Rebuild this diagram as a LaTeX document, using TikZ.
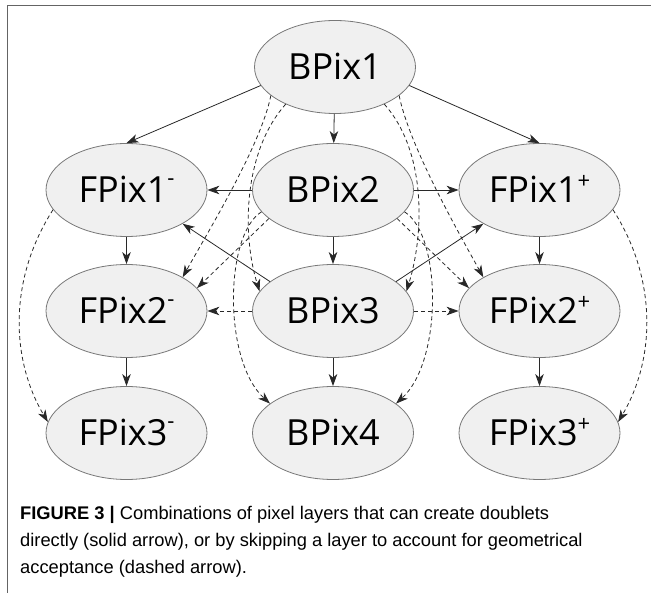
\documentclass[tikz,border=0pt]{standalone}
\usepackage{fontspec}
\setmainfont{Liberation Sans}
\newfontfamily\nodefont{Open Sans}
\usetikzlibrary{shapes.geometric,arrows.meta}
\definecolor{nodefill}{RGB}{240,240,240}
\definecolor{nodeedge}{RGB}{120,120,120}
\definecolor{edgecol}{RGB}{40,40,40}
\definecolor{framecol}{RGB}{100,100,100}
\newcommand{\supm}{\raisebox{17pt}{\fontsize{22}{22}\selectfont -}}
\newcommand{\supp}{\raisebox{14pt}{\fontsize{22}{22}\selectfont +}}
\begin{document}
\begin{tikzpicture}[x=1pt,y=-1pt,
  layer/.style={ellipse, draw=nodeedge, fill=nodefill, line width=0.8pt,
    minimum width=161pt, minimum height=93pt, inner sep=0pt,
    font=\nodefont\fontsize{36}{40}\selectfont, text height=26pt, text depth=0pt},
  solidedge/.style={draw=edgecol, line width=0.8pt,
    -{Stealth[length=12pt,width=8.5pt,inset=3.5pt]}},
  skipedge/.style={solidedge, dash pattern=on 4pt off 3pt},
  capline/.style={anchor=base west, inner sep=0pt, font=\fontsize{18.3}{22}\selectfont}]
\useasboundingbox (0,0) rectangle (651,593);
\draw[framecol, line width=1.3pt] (7.3,593) -- (7.3,5.3) -- (651,5.3);

\node[layer] (b1) at (335,67) {BPix1};
\node[layer] (b2) at (333,190) {BPix2};
\node[layer] (b3) at (333,311) {BPix3};
\node[layer] (b4) at (333,433) {BPix4};
\node[layer] (f1m) at (126.5,190) {FPix1\supm};
\node[layer] (f2m) at (126.5,311) {FPix2\supm};
\node[layer] (f3m) at (126.5,433) {FPix3\supm};
\node[layer] (f1p) at (539.5,190) {FPix1\supp};
\node[layer] (f2p) at (539.5,311) {FPix2\supp};
\node[layer] (f3p) at (539.5,433) {FPix3\supp};

% direct doublets
\draw[solidedge] (b1.194) -- (f1m.north);
\draw[solidedge] (b1.346) -- (f1p.north);
\draw[solidedge] (b1) -- (b2);
\draw[solidedge] (b2) -- (f1m);
\draw[solidedge] (b2) -- (f1p);
\draw[solidedge] (b2) -- (b3);
\draw[solidedge] (b3) -- (b4);
\draw[solidedge] (b3.155) -- (f1m.329);
\draw[solidedge] (b3.25) -- (f1p.211);
\draw[solidedge] (f1m) -- (f2m);
\draw[solidedge] (f2m) -- (f3m);
\draw[solidedge] (f1p) -- (f2p);
\draw[solidedge] (f2p) -- (f3p);

% skipping a layer
\draw[skipedge] (b3) -- (f2m);
\draw[skipedge] (b3) -- (f2p);
\draw[skipedge] (f1m.195) .. controls +(-45,70) and +(-37,-62) .. (f3m.172);
\draw[skipedge] (f1p.345) .. controls +(45,70) and +(37,-62) .. (f3p.8);
\draw[skipedge] (b1.204) .. controls +(-10,50) and +(25,-45) .. (f2m.31);
\draw[skipedge] (b1.336) .. controls +(10,50) and +(-25,-45) .. (f2p.149);
\draw[skipedge] (b1.217) .. controls +(-42,47) and +(-18,-58) .. (b3.165);
\draw[skipedge] (b1.323) .. controls +(42,47) and +(18,-58) .. (b3.15);
\draw[skipedge] (b2.204) -- (f2m.18);
\draw[skipedge] (b2.336) -- (f2p.162);
\draw[skipedge] (b2.197) .. controls +(-37,23) and +(-47,-43) .. (b4.155);
\draw[skipedge] (b2.343) .. controls +(37,23) and +(47,-43) .. (b4.25);

% caption
\node[capline] (c1) at (20,519.5) {\textbf{FIGURE 3 |} Combinations of pixel layers that can create doublets};
\node[capline] (c2) at (20,546.5) {directly (solid arrow), or by skipping a layer to account for geometrical};
\node[capline] (c3) at (20,573.5) {acceptance (dashed arrow).};
\end{tikzpicture}
\end{document}
